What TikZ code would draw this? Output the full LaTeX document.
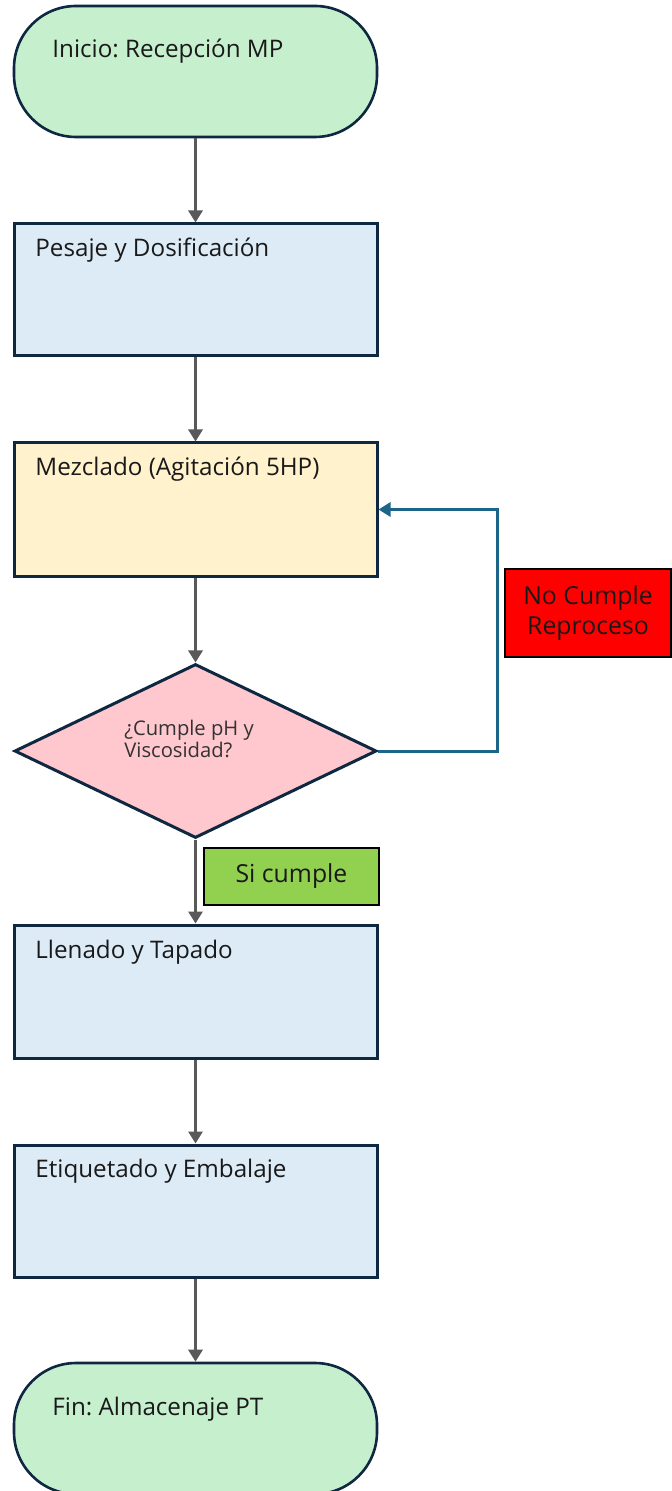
\documentclass[tikz,border=0pt]{standalone}
\usepackage{fontspec}
\setmainfont{Open Sans}
\usetikzlibrary{shapes.geometric,arrows.meta}
\definecolor{navy}{RGB}{14,40,65}
\definecolor{termfill}{RGB}{198,239,206}
\definecolor{boxfill}{RGB}{221,235,247}
\definecolor{mixfill}{RGB}{255,242,204}
\definecolor{decfill}{RGB}{255,199,206}
\definecolor{okfill}{RGB}{146,208,80}
\definecolor{arrgray}{RGB}{89,89,89}
\definecolor{loopblue}{RGB}{28,100,136}
\definecolor{txt}{RGB}{25,25,25}
\definecolor{dectxt}{RGB}{50,50,50}
\tikzset{
  terminal/.style={draw=navy, line width=1.3pt, fill=termfill, rectangle, rounded corners=31pt,
    minimum width=181.5pt, minimum height=65.5pt, inner sep=0pt},
  procbox/.style={draw=navy, line width=1.5pt, fill=boxfill, rectangle,
    minimum width=181.5pt, minimum height=66pt, inner sep=0pt},
  decision/.style={draw=navy, line width=1.5pt, fill=decfill, diamond,
    minimum width=181pt, minimum height=87pt, inner sep=0pt},
  lbl/.style={anchor=base west, inner sep=0pt, text=txt, font=\fontsize{12.1pt}{14pt}\selectfont},
  declbl/.style={lbl, text=dectxt, font=\fontsize{10.1pt}{11pt}\selectfont},
  flow/.style={draw=arrgray, line width=1.5pt, -{Triangle[width=7pt,length=6pt]}},
  loopflow/.style={draw=loopblue, line width=1.5pt, -{Triangle[width=7pt,length=6pt]}},
}
\frenchspacing
\begin{document}
\begin{tikzpicture}[x=0.5pt,y=-0.5pt]
\useasboundingbox[fill=white] (0,0) rectangle (672,1491);
% shapes
\node[terminal] (start) at (195.5,71.5) {};
\node[procbox] (pesaje) at (195.5,290) {};
\node[procbox, fill=mixfill, minimum height=66.5pt] (mezcla) at (195.5,509.5) {};
\node[decision] (dec) at (195.5,751) {};
\node[procbox, minimum height=66.5pt] (llenado) at (195.5,991.5) {};
\node[procbox] (etiq) at (195.5,1211) {};
\node[terminal] (fin) at (195.5,1428.5) {};
\node[draw=black, line width=1pt, fill=okfill, minimum width=87.5pt, minimum height=28.5pt, inner sep=0pt,
  text=txt, font=\fontsize{12.4pt}{14pt}\selectfont] (si) at (291.5,876.5) {Si cumple};
\node[draw=black, line width=0.8pt, fill=red, minimum width=83pt, minimum height=44pt, inner sep=0pt,
  align=center, text=txt, font=\fontsize{12.4pt}{15pt}\selectfont] (no) at (588,613) {No Cumple\\Reproceso};
% labels
\node[lbl] (tstart) at (52,58) {Inicio: Recepción MP};
\node[lbl] (tpesaje) at (35,257) {Pesaje y Dosificación};
\node[lbl] (tmezcla) at (35,476) {Mezclado (Agitación 5HP)};
\node[lbl] (tllenado) at (35,958) {Llenado y Tapado};
\node[lbl] (tetiq) at (35,1177) {Etiquetado y Embalaje};
\node[lbl] (tfin) at (52,1415) {Fin: Almacenaje PT};
\node[declbl] (tdec1) at (124,735) {¿Cumple pH y};
\node[declbl] (tdec2) at (124,757) {Viscosidad?};
% connectors
\draw[flow] (start) -- (pesaje);
\draw[flow] (pesaje) -- (mezcla);
\draw[flow] (mezcla) -- (dec);
\draw[flow] (dec) -- (llenado);
\draw[flow] (llenado) -- (etiq);
\draw[flow] (etiq) -- (fin);
\coordinate (rc) at (497,751);
\draw[loopflow] (dec.east) -- (rc) |- (mezcla.east);
\end{tikzpicture}
\end{document}
